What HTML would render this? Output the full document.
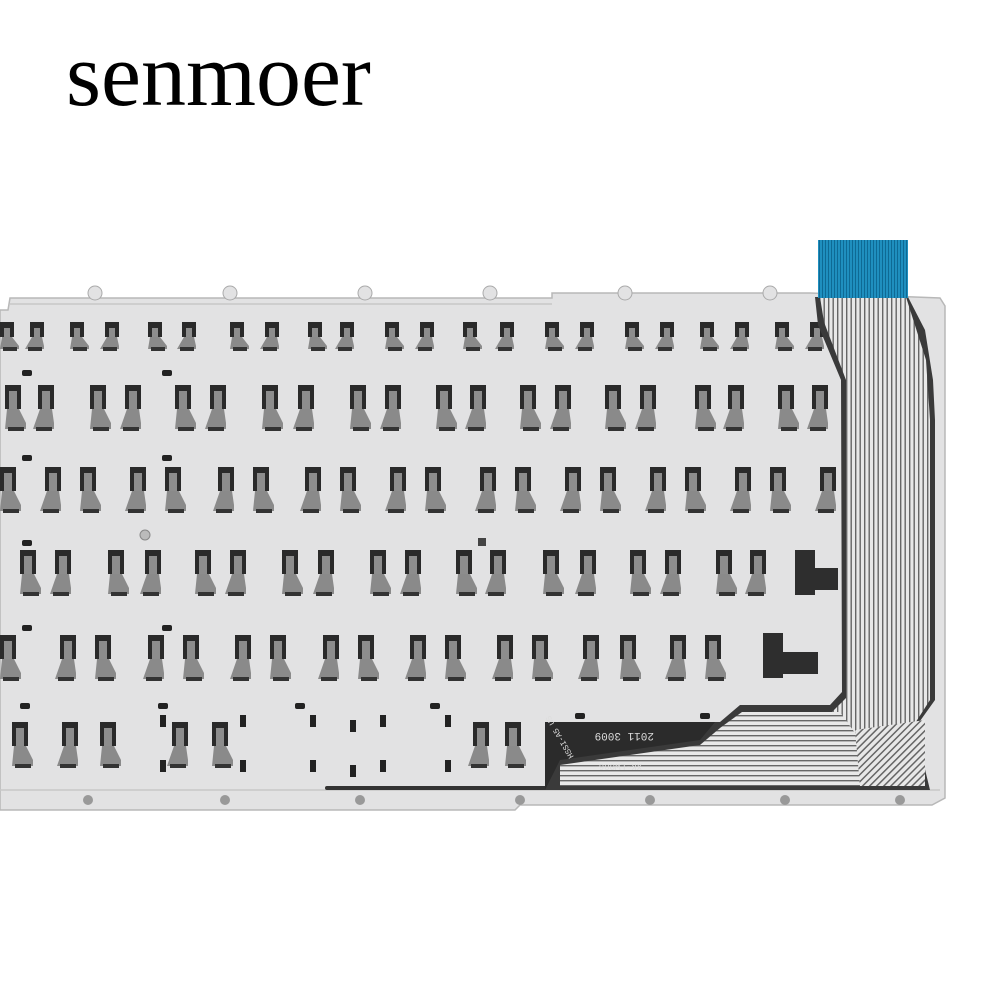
<!DOCTYPE html>
<html><head><meta charset="utf-8"><style>
html,body{margin:0;padding:0;background:#fff;width:1000px;height:1000px;overflow:hidden}
svg{position:absolute;left:0;top:0}
</style></head><body>
<svg id="s" width="1000" height="1000" viewBox="0 0 1000 1000" xmlns="http://www.w3.org/2000/svg">
<defs>
<pattern id="vs" width="4.5" height="10" patternUnits="userSpaceOnUse"><rect width="4.5" height="10" fill="#e8e8e8"/><rect width="1.4" height="10" fill="#666"/></pattern>
<pattern id="hs" width="10" height="5" patternUnits="userSpaceOnUse"><rect width="10" height="5" fill="#e8e8e8"/><rect width="10" height="1.4" fill="#666"/></pattern>
<pattern id="ds" width="5" height="5" patternUnits="userSpaceOnUse" patternTransform="rotate(45)"><rect width="5" height="5" fill="#e8e8e8"/><rect width="1.5" height="5" fill="#666"/></pattern>
<pattern id="bs" width="3" height="10" patternUnits="userSpaceOnUse"><rect width="3" height="10" fill="#1f8fbf"/><rect width="1" height="10" fill="#0e6a95"/></pattern>
</defs>
<text x="66" y="105" font-family="Liberation Serif, serif" font-size="90" fill="#000">senmoer</text>
<path d="M0 310 L8 310 L10 298 L552 298 L552 293 L810 293 L940 298 L945 306 L945 798 L932 805 L520 805 L515 810 L0 810 Z" fill="#e2e2e3" stroke="#b8b8b8" stroke-width="1.5"/>
<line x1="10" y1="304" x2="552" y2="304" stroke="#c8c8c8" stroke-width="1.5"/>
<line x1="0" y1="790" x2="940" y2="790" stroke="#c8c8c8" stroke-width="1.5"/>
<g id="g"></g>
<!-- flex cable -->
<path d="M815 297 L908 297 L925 330 L933 380 L935 420 L935 700 L915 728 L930 790 L545 790 L545 722 L720 722 L740 705 L830 705 L842 692 L841 380 L818 325 Z" fill="#3a3a3a"/>
<path d="M820 297 L906 297 L926 360 L930 420 L930 700 L912 728 L923 786 L850 786 L832 712 L846 698 L846 380 L824 322 Z" fill="url(#vs)"/>
<path d="M720 728 L742 712 L840 712 L860 740 L860 786 L700 786 L700 745 Z" fill="url(#hs)"/>
<path d="M855 730 L925 720 L925 786 L860 786 Z" fill="url(#ds)"/>
<path d="M560 765 L700 745 L700 786 L560 786 Z" fill="url(#hs)"/>
<path d="M545 722 L715 722 L700 740 L560 760 L545 790 Z" fill="#2b2b2b"/>
<text x="590" y="741" font-family="Liberation Mono, monospace" font-size="11" fill="#ddd" transform="rotate(180 622 737)">2011 3009</text>
<text x="598" y="770" font-family="Liberation Mono, monospace" font-size="9" fill="#ddd" transform="rotate(180 620 767)">XK-LW006</text>
<text x="552" y="760" font-family="Liberation Mono, monospace" font-size="8" fill="#ddd" transform="rotate(-120 562 752)">HSSI-A5 US</text>
<rect x="818" y="240" width="90" height="58" fill="url(#bs)"/>
</svg>
<script>
var g=document.getElementById('g'),h='';
function clip(x,y,big,flip){
 var dh=big?24:15, w=big?16:14;
 h+='<rect x="'+x+'" y="'+y+'" width="'+w+'" height="'+dh+'" fill="#2a2a2a"/>';
 h+='<rect x="'+(x+4)+'" y="'+(y+6)+'" width="'+(w-8)+'" height="'+(dh-4)+'" fill="#8d8d8d"/>';
 var fx=flip?x-5:x;
 h+='<path d="M'+(x+2)+' '+(y+dh)+' L'+(x+w-2)+' '+(y+dh)+' L'+(fx+w+5)+' '+(y+dh+(big?14:9))+' L'+(fx+w+5)+' '+(y+dh+(big?20:12))+' L'+fx+' '+(y+dh+(big?20:12))+' Z" fill="#8a8a8a"/>';
 h+='<rect x="'+(fx+3)+'" y="'+(y+dh+(big?18:10))+'" width="'+(w)+'" height="4" fill="#333"/>';
}
function row(y,xs,big){xs.forEach(function(x,i){clip(x,y,big,i%2==1)});}
row(322,[0,30,70,105,148,182,230,265,308,340,385,420,463,500,545,580,625,660,700,735,775,810],false);
row(385,[5,38,90,125,175,210,262,298,350,385,436,470,520,555,605,640,695,728,778,812],true);
row(467,[0,45,80,130,165,218,253,305,340,390,425,480,515,565,600,650,685,735,770,820],true);
row(550,[20,55,108,145,195,230,282,318,370,405,456,490,543,580,630,665,716,750],true);
row(635,[0,60,95,148,183,235,270,323,358,410,445,497,532,583,620,670,705],true);
row(722,[12,62,100,172,212,473,505],true);
h+='<rect x="795" y="550" width="20" height="45" fill="#2e2e2e"/><rect x="812" y="568" width="26" height="22" fill="#2e2e2e"/>';
h+='<rect x="763" y="633" width="20" height="45" fill="#2e2e2e"/><rect x="780" y="652" width="38" height="22" fill="#2e2e2e"/>';
[[22,370],[162,370],[22,455],[162,455],[22,540],[22,625],[162,625],[20,703],[158,703],[295,703],[430,703],[575,713],[700,713]].forEach(function(p){h+='<rect x="'+p[0]+'" y="'+p[1]+'" width="10" height="6" rx="2" fill="#222"/>'});
[[310,715],[350,720],[380,715],[310,760],[350,765],[380,760],[445,715],[445,760],[240,715],[240,760],[160,715],[160,760]].forEach(function(p){h+='<rect x="'+p[0]+'" y="'+p[1]+'" width="6" height="12" fill="#222"/>'});
[95,230,365,490,625,770].forEach(function(x){h+='<circle cx="'+x+'" cy="293" r="7" fill="#e2e2e3" stroke="#aaa"/>'});
[88,225,360,520,650,785,900].forEach(function(x){h+='<circle cx="'+x+'" cy="800" r="5" fill="#999"/>'});
h+='<circle cx="145" cy="535" r="5" fill="#bbb" stroke="#888"/><rect x="478" y="538" width="8" height="8" fill="#444"/>';
h+='<rect x="325" y="786" width="520" height="4" rx="2" fill="#333"/>';
g.innerHTML=h;
</script>
</body></html>
